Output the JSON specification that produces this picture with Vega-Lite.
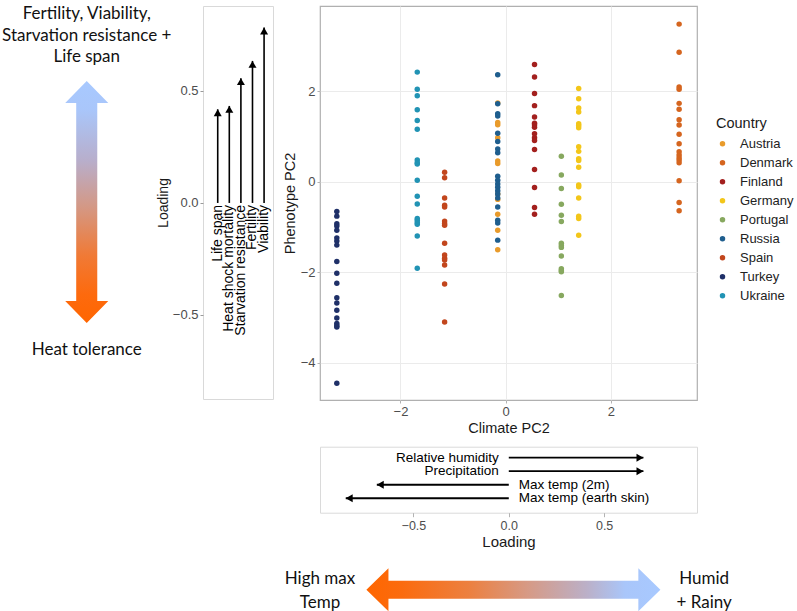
{
  "$schema": "https://vega.github.io/schema/vega-lite/v6.json",
  "padding": {"left": 0, "top": 5, "right": 0, "bottom": 0},
  "bounds": "flush",
  "spacing": 47,
  "config": {"view": {"stroke": null}, "font": "Liberation Sans"},
  "datasets": {
    "scatter": [
      {"country": "Austria", "climate": -0.15, "pheno": 1.74},
      {"country": "Austria", "climate": -0.15, "pheno": 1.31},
      {"country": "Austria", "climate": -0.15, "pheno": 1.26},
      {"country": "Austria", "climate": -0.15, "pheno": 0.97},
      {"country": "Austria", "climate": -0.15, "pheno": 0.46},
      {"country": "Austria", "climate": -0.15, "pheno": 0.40},
      {"country": "Austria", "climate": -0.15, "pheno": -0.27},
      {"country": "Austria", "climate": -0.15, "pheno": -0.39},
      {"country": "Austria", "climate": -0.15, "pheno": -0.72},
      {"country": "Austria", "climate": -0.15, "pheno": -1.07},
      {"country": "Austria", "climate": -0.15, "pheno": -1.50},
      {"country": "Denmark", "climate": 3.30, "pheno": 3.48},
      {"country": "Denmark", "climate": 3.30, "pheno": 2.86},
      {"country": "Denmark", "climate": 3.30, "pheno": 2.09},
      {"country": "Denmark", "climate": 3.30, "pheno": 2.04},
      {"country": "Denmark", "climate": 3.30, "pheno": 1.73},
      {"country": "Denmark", "climate": 3.30, "pheno": 1.60},
      {"country": "Denmark", "climate": 3.30, "pheno": 1.37},
      {"country": "Denmark", "climate": 3.30, "pheno": 1.25},
      {"country": "Denmark", "climate": 3.30, "pheno": 1.05},
      {"country": "Denmark", "climate": 3.30, "pheno": 0.84},
      {"country": "Denmark", "climate": 3.30, "pheno": 0.66},
      {"country": "Denmark", "climate": 3.30, "pheno": 0.59},
      {"country": "Denmark", "climate": 3.30, "pheno": 0.53},
      {"country": "Denmark", "climate": 3.30, "pheno": 0.48},
      {"country": "Denmark", "climate": 3.30, "pheno": 0.42},
      {"country": "Denmark", "climate": 3.30, "pheno": 0.02},
      {"country": "Denmark", "climate": 3.30, "pheno": -0.46},
      {"country": "Denmark", "climate": 3.30, "pheno": -0.64},
      {"country": "Finland", "climate": 0.55, "pheno": 2.59},
      {"country": "Finland", "climate": 0.55, "pheno": 2.31},
      {"country": "Finland", "climate": 0.55, "pheno": 1.95},
      {"country": "Finland", "climate": 0.55, "pheno": 1.68},
      {"country": "Finland", "climate": 0.55, "pheno": 1.43},
      {"country": "Finland", "climate": 0.55, "pheno": 1.29},
      {"country": "Finland", "climate": 0.55, "pheno": 1.25},
      {"country": "Finland", "climate": 0.55, "pheno": 1.20},
      {"country": "Finland", "climate": 0.55, "pheno": 1.06},
      {"country": "Finland", "climate": 0.55, "pheno": 0.97},
      {"country": "Finland", "climate": 0.55, "pheno": 0.91},
      {"country": "Finland", "climate": 0.55, "pheno": 0.71},
      {"country": "Finland", "climate": 0.55, "pheno": 0.27},
      {"country": "Finland", "climate": 0.55, "pheno": -0.13},
      {"country": "Finland", "climate": 0.55, "pheno": -0.57},
      {"country": "Finland", "climate": 0.55, "pheno": -0.72},
      {"country": "Germany", "climate": 1.39, "pheno": 2.06},
      {"country": "Germany", "climate": 1.39, "pheno": 1.83},
      {"country": "Germany", "climate": 1.39, "pheno": 1.63},
      {"country": "Germany", "climate": 1.39, "pheno": 1.54},
      {"country": "Germany", "climate": 1.39, "pheno": 1.28},
      {"country": "Germany", "climate": 1.39, "pheno": 1.24},
      {"country": "Germany", "climate": 1.39, "pheno": 1.19},
      {"country": "Germany", "climate": 1.39, "pheno": 0.77},
      {"country": "Germany", "climate": 1.39, "pheno": 0.67},
      {"country": "Germany", "climate": 1.39, "pheno": 0.51},
      {"country": "Germany", "climate": 1.39, "pheno": 0.47},
      {"country": "Germany", "climate": 1.39, "pheno": 0.32},
      {"country": "Germany", "climate": 1.39, "pheno": -0.07},
      {"country": "Germany", "climate": 1.39, "pheno": -0.11},
      {"country": "Germany", "climate": 1.39, "pheno": -0.36},
      {"country": "Germany", "climate": 1.39, "pheno": -0.76},
      {"country": "Germany", "climate": 1.39, "pheno": -0.81},
      {"country": "Germany", "climate": 1.39, "pheno": -1.18},
      {"country": "Portugal", "climate": 1.06, "pheno": 0.56},
      {"country": "Portugal", "climate": 1.06, "pheno": 0.15},
      {"country": "Portugal", "climate": 1.06, "pheno": -0.15},
      {"country": "Portugal", "climate": 1.06, "pheno": -0.50},
      {"country": "Portugal", "climate": 1.06, "pheno": -0.74},
      {"country": "Portugal", "climate": 1.06, "pheno": -0.88},
      {"country": "Portugal", "climate": 1.06, "pheno": -1.36},
      {"country": "Portugal", "climate": 1.06, "pheno": -1.41},
      {"country": "Portugal", "climate": 1.06, "pheno": -1.45},
      {"country": "Portugal", "climate": 1.06, "pheno": -1.64},
      {"country": "Portugal", "climate": 1.06, "pheno": -1.92},
      {"country": "Portugal", "climate": 1.06, "pheno": -1.96},
      {"country": "Portugal", "climate": 1.06, "pheno": -1.99},
      {"country": "Portugal", "climate": 1.06, "pheno": -2.51},
      {"country": "Russia", "climate": -0.15, "pheno": 2.36},
      {"country": "Russia", "climate": -0.15, "pheno": 1.72},
      {"country": "Russia", "climate": -0.15, "pheno": 1.50},
      {"country": "Russia", "climate": -0.15, "pheno": 1.45},
      {"country": "Russia", "climate": -0.15, "pheno": 1.07},
      {"country": "Russia", "climate": -0.15, "pheno": 0.89},
      {"country": "Russia", "climate": -0.15, "pheno": 0.72},
      {"country": "Russia", "climate": -0.15, "pheno": 0.64},
      {"country": "Russia", "climate": -0.15, "pheno": 0.12},
      {"country": "Russia", "climate": -0.15, "pheno": 0.03},
      {"country": "Russia", "climate": -0.15, "pheno": -0.05},
      {"country": "Russia", "climate": -0.15, "pheno": -0.12},
      {"country": "Russia", "climate": -0.15, "pheno": -0.20},
      {"country": "Russia", "climate": -0.15, "pheno": -0.27},
      {"country": "Russia", "climate": -0.15, "pheno": -0.36},
      {"country": "Russia", "climate": -0.15, "pheno": -0.56},
      {"country": "Russia", "climate": -0.15, "pheno": -0.85},
      {"country": "Russia", "climate": -0.15, "pheno": -0.91},
      {"country": "Russia", "climate": -0.15, "pheno": -1.29},
      {"country": "Spain", "climate": -1.16, "pheno": 0.21},
      {"country": "Spain", "climate": -1.16, "pheno": 0.09},
      {"country": "Spain", "climate": -1.16, "pheno": -0.36},
      {"country": "Spain", "climate": -1.16, "pheno": -0.52},
      {"country": "Spain", "climate": -1.16, "pheno": -0.56},
      {"country": "Spain", "climate": -1.16, "pheno": -0.87},
      {"country": "Spain", "climate": -1.16, "pheno": -0.92},
      {"country": "Spain", "climate": -1.16, "pheno": -0.96},
      {"country": "Spain", "climate": -1.16, "pheno": -1.36},
      {"country": "Spain", "climate": -1.16, "pheno": -1.62},
      {"country": "Spain", "climate": -1.16, "pheno": -1.69},
      {"country": "Spain", "climate": -1.16, "pheno": -1.73},
      {"country": "Spain", "climate": -1.16, "pheno": -1.84},
      {"country": "Spain", "climate": -1.16, "pheno": -2.26},
      {"country": "Spain", "climate": -1.16, "pheno": -3.10},
      {"country": "Turkey", "climate": -3.21, "pheno": -0.66},
      {"country": "Turkey", "climate": -3.21, "pheno": -0.76},
      {"country": "Turkey", "climate": -3.21, "pheno": -0.93},
      {"country": "Turkey", "climate": -3.21, "pheno": -0.98},
      {"country": "Turkey", "climate": -3.21, "pheno": -1.07},
      {"country": "Turkey", "climate": -3.21, "pheno": -1.24},
      {"country": "Turkey", "climate": -3.21, "pheno": -1.31},
      {"country": "Turkey", "climate": -3.21, "pheno": -1.40},
      {"country": "Turkey", "climate": -3.21, "pheno": -1.76},
      {"country": "Turkey", "climate": -3.21, "pheno": -2.02},
      {"country": "Turkey", "climate": -3.21, "pheno": -2.24},
      {"country": "Turkey", "climate": -3.21, "pheno": -2.56},
      {"country": "Turkey", "climate": -3.21, "pheno": -2.68},
      {"country": "Turkey", "climate": -3.21, "pheno": -2.84},
      {"country": "Turkey", "climate": -3.21, "pheno": -3.01},
      {"country": "Turkey", "climate": -3.21, "pheno": -3.13},
      {"country": "Turkey", "climate": -3.21, "pheno": -3.18},
      {"country": "Turkey", "climate": -3.21, "pheno": -3.21},
      {"country": "Turkey", "climate": -3.21, "pheno": -4.45},
      {"country": "Ukraine", "climate": -1.68, "pheno": 2.42},
      {"country": "Ukraine", "climate": -1.68, "pheno": 2.04},
      {"country": "Ukraine", "climate": -1.68, "pheno": 1.90},
      {"country": "Ukraine", "climate": -1.68, "pheno": 1.59},
      {"country": "Ukraine", "climate": -1.68, "pheno": 1.35},
      {"country": "Ukraine", "climate": -1.68, "pheno": 1.16},
      {"country": "Ukraine", "climate": -1.68, "pheno": 0.48},
      {"country": "Ukraine", "climate": -1.68, "pheno": 0.42},
      {"country": "Ukraine", "climate": -1.68, "pheno": 0.39},
      {"country": "Ukraine", "climate": -1.68, "pheno": 0.03},
      {"country": "Ukraine", "climate": -1.68, "pheno": -0.32},
      {"country": "Ukraine", "climate": -1.68, "pheno": -0.49},
      {"country": "Ukraine", "climate": -1.68, "pheno": -0.81},
      {"country": "Ukraine", "climate": -1.68, "pheno": -0.85},
      {"country": "Ukraine", "climate": -1.68, "pheno": -0.90},
      {"country": "Ukraine", "climate": -1.68, "pheno": -0.94},
      {"country": "Ukraine", "climate": -1.68, "pheno": -1.20},
      {"country": "Ukraine", "climate": -1.68, "pheno": -1.91}
    ],
    "pheno": [
      {"trait": "Life span", "order": 1, "loading": 0.418},
      {"trait": "Heat shock mortality", "order": 2, "loading": 0.433},
      {"trait": "Starvation resistance", "order": 3, "loading": 0.557},
      {"trait": "Fertility", "order": 4, "loading": 0.634},
      {"trait": "Viability", "order": 5, "loading": 0.783}
    ],
    "climate": [
      {"variable": "Relative humidity", "order": 1, "loading": 0.706},
      {"variable": "Precipitation", "order": 2, "loading": 0.706},
      {"variable": "Max temp (2m)", "order": 3, "loading": -0.692},
      {"variable": "Max temp (earth skin)", "order": 4, "loading": -0.855}
    ],
    "one": [{}]
  },
  "hconcat": [
    {
      "width": 156,
      "height": 393,
      "data": {"name": "one"},
      "layer": [
        {
          "mark": {
            "type": "point",
            "shape": "M0,-1 L0.178,-0.818 L0.087,-0.818 L0.087,0.818 L0.178,0.818 L0,1 L-0.178,0.818 L-0.087,0.818 L-0.087,-0.818 L-0.178,-0.818 Z",
            "size": 58564,
            "filled": true,
            "opacity": 1,
            "strokeWidth": 0,
            "fill": {
              "gradient": "linear", "x1": 0, "y1": 0, "x2": 0, "y2": 1,
              "stops": [
                {"offset": 0, "color": "#a8c9ff"},
                {"offset": 0.12, "color": "#a9c6fa"},
                {"offset": 0.33, "color": "#b8aecb"},
                {"offset": 0.52, "color": "#d49885"},
                {"offset": 0.72, "color": "#f07a36"},
                {"offset": 0.88, "color": "#fd6a0e"},
                {"offset": 1, "color": "#ff6600"}
              ]
            }
          },
          "encoding": {
            "x": {"datum": 0.556, "type": "quantitative", "scale": {"domain": [0, 1], "nice": false, "zero": false}, "axis": null},
            "y": {"datum": 0.4987, "type": "quantitative", "scale": {"domain": [0, 1], "reverse": true, "nice": false, "zero": false}, "axis": null}
          }
        },
        {
          "mark": {
            "type": "text",
            "text": ["Fertility, Viability,", "Starvation resistance +", "Life span"],
            "font": "Lato", "fontSize": 17, "lineHeight": 21.6,
            "align": "center", "baseline": "top", "color": "#111111"
          },
          "encoding": {
            "x": {"datum": 0.556, "type": "quantitative"},
            "y": {"datum": 0, "type": "quantitative"}
          }
        },
        {
          "mark": {
            "type": "text",
            "text": "Heat tolerance",
            "font": "Lato", "fontSize": 17,
            "align": "center", "baseline": "middle", "color": "#111111"
          },
          "encoding": {
            "x": {"datum": 0.556, "type": "quantitative"},
            "y": {"datum": 0.875, "type": "quantitative"}
          }
        }
      ]
    },
    {
      "width": 70,
      "height": 393,
      "view": {"stroke": "#d9d9d9", "strokeWidth": 1},
      "data": {"name": "pheno"},
      "layer": [
        {
          "mark": {"type": "rule", "color": "black", "strokeWidth": 1.6},
          "encoding": {
            "x": {"field": "order", "type": "quantitative", "scale": {"domain": [-0.27, 5.77], "nice": false, "zero": false}, "axis": null},
            "y": {
              "field": "loading", "type": "quantitative",
              "scale": {"domain": [-0.875, 0.879], "nice": false, "zero": false},
              "axis": {
                "values": [-0.5, 0, 0.5], "format": ".1f", "title": "Loading",
                "grid": false, "domain": false, "tickColor": "#9a9a9a", "tickSize": 3,
                "labelColor": "#4d4d4d", "labelFontSize": 13, "labelPadding": 2,
                "titleFontSize": 14, "titleFontWeight": "normal", "titleColor": "#1a1a1a", "titlePadding": 2
              }
            },
            "y2": {"datum": 0}
          }
        },
        {
          "mark": {"type": "point", "shape": "triangle-up", "filled": true, "color": "black", "size": 64, "opacity": 1, "yOffset": 3.46},
          "encoding": {
            "x": {"field": "order", "type": "quantitative"},
            "y": {"field": "loading", "type": "quantitative"}
          }
        },
        {
          "mark": {"type": "text", "angle": 270, "align": "right", "baseline": "middle", "fontSize": 14, "yOffset": 2, "color": "black"},
          "encoding": {
            "x": {"field": "order", "type": "quantitative"},
            "y": {"datum": 0, "type": "quantitative"},
            "text": {"field": "trait", "type": "nominal"}
          }
        }
      ]
    },
    {
      "vconcat": [
        {
          "width": 377,
          "height": 394,
          "view": {"stroke": "#b0b0b0", "strokeWidth": 1.2},
          "data": {"name": "scatter"},
          "mark": {"type": "point", "filled": true, "size": 30, "opacity": 1},
          "encoding": {
            "x": {
              "field": "climate", "type": "quantitative",
              "scale": {"domain": [-3.53, 3.64], "nice": false, "zero": false},
              "axis": {
                "values": [-2, 0, 2], "format": "d", "title": "Climate PC2",
                "grid": true, "gridColor": "#ebebeb", "gridWidth": 1, "domain": false,
                "tickColor": "#b3b3b3", "tickSize": 3, "labelColor": "#4d4d4d", "labelFontSize": 13, "labelPadding": 2,
                "titleFontSize": 14.5, "titleFontWeight": "normal", "titleColor": "#1a1a1a", "titlePadding": 3
              }
            },
            "y": {
              "field": "pheno", "type": "quantitative",
              "scale": {"domain": [-4.82, 3.88], "nice": false, "zero": false},
              "axis": {
                "values": [-4, -2, 0, 2], "format": "d", "title": "Phenotype PC2",
                "grid": true, "gridColor": "#ebebeb", "gridWidth": 1, "domain": false,
                "tickColor": "#b3b3b3", "tickSize": 3, "labelColor": "#4d4d4d", "labelFontSize": 13, "labelPadding": 2,
                "titleFontSize": 14.5, "titleFontWeight": "normal", "titleColor": "#1a1a1a", "titlePadding": 2.5
              }
            },
            "color": {
              "field": "country", "type": "nominal",
              "scale": {"range": ["#E99B2B", "#D5651F", "#A3201E", "#F3C619", "#87A85F", "#1F5E8E", "#C2461D", "#1F3068", "#2193B4"]},
              "legend": {
                "orient": "none", "legendX": 716, "legendY": 110.7, "padding": 0,
                "title": "Country", "titleFontSize": 14.5, "titleFontWeight": "normal", "titleColor": "#1a1a1a", "titlePadding": 6,
                "labelFontSize": 13, "labelColor": "#222222", "symbolType": "circle", "symbolSize": 30,
                "symbolOffset": 0, "labelOffset": 11, "rowPadding": 5, "symbolStrokeWidth": 0, "symbolOpacity": 1
              }
            }
          }
        },
        {
          "width": 377,
          "height": 66,
          "view": {"stroke": "#dadada", "strokeWidth": 1},
          "data": {"name": "climate"},
          "layer": [
            {
              "mark": {"type": "rule", "color": "black", "strokeWidth": 1.8},
              "encoding": {
                "x": {
                  "field": "loading", "type": "quantitative",
                  "scale": {"domain": [-0.99, 0.987], "nice": false, "zero": false},
                  "axis": {
                    "values": [-0.5, 0, 0.5], "format": ".1f", "title": "Loading",
                    "grid": false, "domain": false, "tickColor": "#b3b3b3", "tickSize": 4,
                    "labelColor": "#4d4d4d", "labelFontSize": 12.5, "labelPadding": 3,
                    "titleFontSize": 15, "titleFontWeight": "normal", "titleColor": "#1a1a1a", "titlePadding": 2
                  }
                },
                "x2": {"datum": 0},
                "y": {"field": "order", "type": "quantitative", "scale": {"domain": [0.185, 5.07], "reverse": true, "nice": false, "zero": false}, "axis": null}
              }
            },
            {
              "transform": [{"filter": "datum.loading > 0"}],
              "mark": {"type": "point", "shape": "triangle-right", "filled": true, "color": "black", "size": 64, "opacity": 1, "xOffset": -3.46},
              "encoding": {
                "x": {"field": "loading", "type": "quantitative"},
                "y": {"field": "order", "type": "quantitative"}
              }
            },
            {
              "transform": [{"filter": "datum.loading < 0"}],
              "mark": {"type": "point", "shape": "triangle-left", "filled": true, "color": "black", "size": 64, "opacity": 1, "xOffset": 3.46},
              "encoding": {
                "x": {"field": "loading", "type": "quantitative"},
                "y": {"field": "order", "type": "quantitative"}
              }
            },
            {
              "transform": [{"filter": "datum.loading > 0"}],
              "mark": {"type": "text", "align": "right", "baseline": "middle", "dx": -10, "fontSize": 13.5, "color": "black"},
              "encoding": {
                "x": {"datum": 0, "type": "quantitative"},
                "y": {"field": "order", "type": "quantitative"},
                "text": {"field": "variable", "type": "nominal"}
              }
            },
            {
              "transform": [{"filter": "datum.loading < 0"}],
              "mark": {"type": "text", "align": "left", "baseline": "middle", "dx": 10, "fontSize": 13.5, "color": "black"},
              "encoding": {
                "x": {"datum": 0, "type": "quantitative"},
                "y": {"field": "order", "type": "quantitative"},
                "text": {"field": "variable", "type": "nominal"}
              }
            }
          ]
        },
        {
          "width": 377,
          "height": 52,
          "data": {"name": "one"},
          "layer": [
            {
              "mark": {
                "type": "point",
                "shape": "M-1,0 L-0.85,-0.146 L-0.85,-0.061 L0.85,-0.061 L0.85,-0.146 L1,0 L0.85,0.146 L0.85,0.061 L-0.85,0.061 L-0.85,0.146 Z",
                "size": 86436,
                "filled": true,
                "opacity": 1,
                "strokeWidth": 0,
                "fill": {
                  "gradient": "linear", "x1": 0, "y1": 0, "x2": 1, "y2": 0,
                  "stops": [
                    {"offset": 0, "color": "#ff6600"},
                    {"offset": 0.12, "color": "#fb6b0e"},
                    {"offset": 0.35, "color": "#ec8040"},
                    {"offset": 0.55, "color": "#d69a86"},
                    {"offset": 0.75, "color": "#bbb0c8"},
                    {"offset": 0.88, "color": "#a9c6fa"},
                    {"offset": 1, "color": "#a8c9ff"}
                  ]
                }
              },
              "encoding": {
                "x": {"datum": 0.513, "type": "quantitative", "scale": {"domain": [0, 1], "nice": false, "zero": false}, "axis": null},
                "y": {"datum": 0.583, "type": "quantitative", "scale": {"domain": [0, 1], "reverse": true, "nice": false, "zero": false}, "axis": null}
              }
            },
            {
              "mark": {
                "type": "text", "text": ["High max", "Temp"],
                "font": "Lato", "fontSize": 17, "lineHeight": 24,
                "align": "center", "baseline": "top", "color": "#111111"
              },
              "encoding": {
                "x": {"datum": 0, "type": "quantitative"},
                "y": {"datum": 0.227, "type": "quantitative"}
              }
            },
            {
              "mark": {
                "type": "text", "text": ["Humid", "+ Rainy"],
                "font": "Lato", "fontSize": 17, "lineHeight": 24,
                "align": "center", "baseline": "top", "color": "#111111"
              },
              "encoding": {
                "x": {"datum": 1.019, "type": "quantitative"},
                "y": {"datum": 0.227, "type": "quantitative"}
              }
            }
          ]
        }
      ],
      "spacing": 46.7,
      "bounds": "flush"
    }
  ]
}
